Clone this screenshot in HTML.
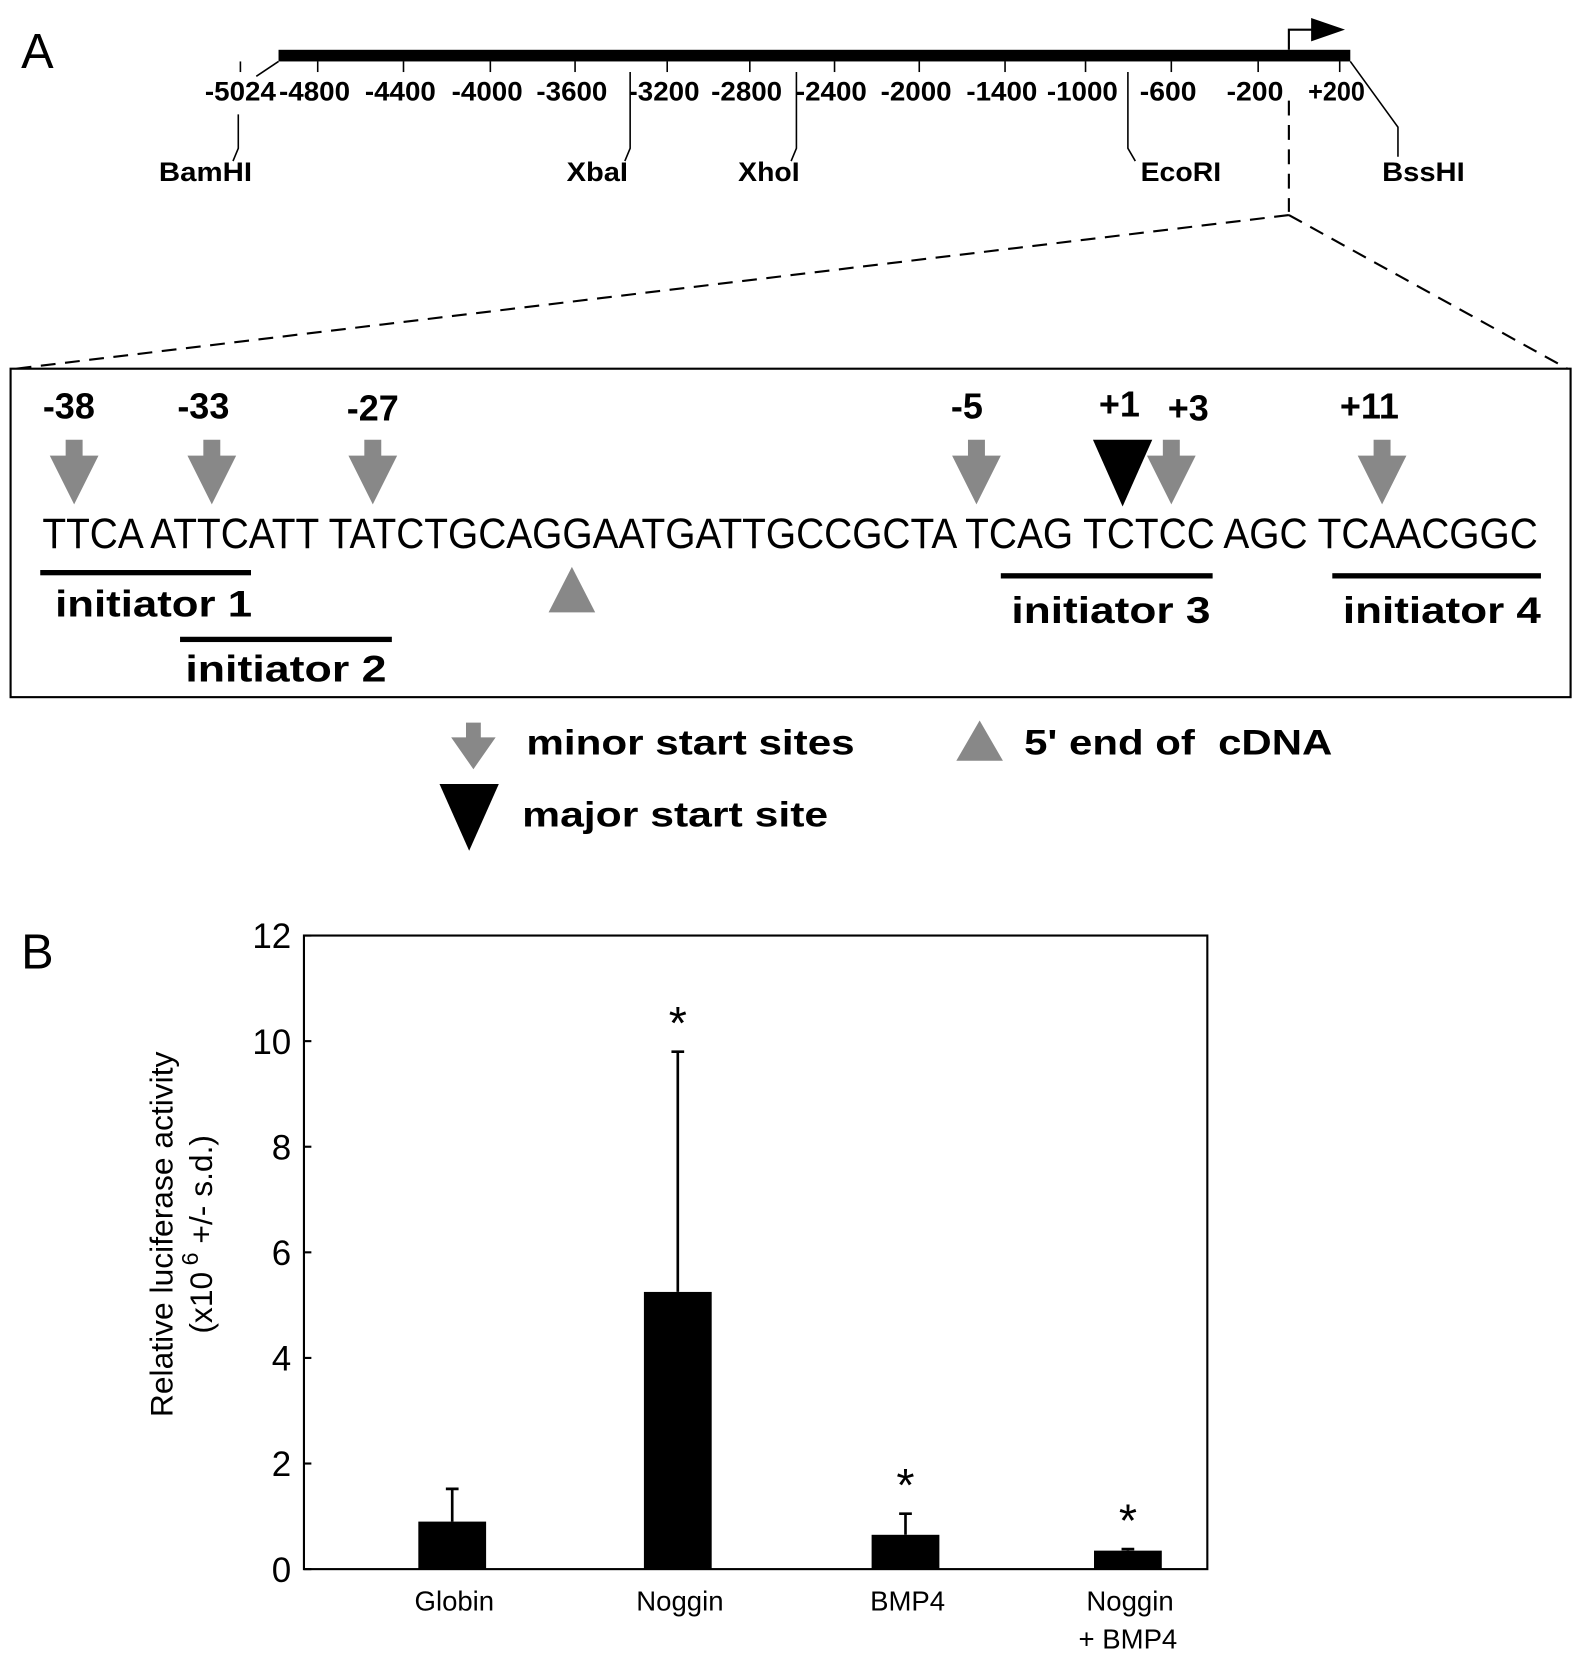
<!DOCTYPE html>
<html><head><meta charset="utf-8"><style>
html,body{margin:0;padding:0;background:#fff;}
svg{display:block;}
text{font-family:"Liberation Sans",sans-serif;}
</style></head><body>
<svg id="fig" width="1578" height="1656" viewBox="0 0 1490 1563" preserveAspectRatio="none" xmlns="http://www.w3.org/2000/svg">
<g>
<text x="20" y="64" font-size="46">A</text>
<rect x="263" y="47" width="1012" height="11" fill="#000"/>
<path d="M1217 47 V28 H1240" fill="none" stroke="#000" stroke-width="2"/>
<path d="M1238 17 L1270 28 L1238 39 Z" fill="#000"/>
<g id="ticks" font-size="25" font-weight="bold" text-anchor="middle"></g>
<g stroke="#000" stroke-width="1.5" fill="none">
<path d="M263 58 L242 72"/><path d="M225 108 V140 L220 152"/>
<path d="M595 68 V140 L590 152"/>
<path d="M752 68 V140 L747 152"/>
<path d="M1065 68 V140 L1072 152"/>
<path d="M1275 58 L1320 120 V148"/>
</g>
<g font-size="25" font-weight="bold" text-anchor="middle">
<text x="194" y="171" textLength="88" lengthAdjust="spacingAndGlyphs">BamHI</text>
<text x="564" y="171" textLength="58" lengthAdjust="spacingAndGlyphs">XbaI</text>
<text x="726" y="171" textLength="58" lengthAdjust="spacingAndGlyphs">XhoI</text>
<text x="1115" y="171" textLength="76" lengthAdjust="spacingAndGlyphs">EcoRI</text>
<text x="1344" y="171" textLength="78" lengthAdjust="spacingAndGlyphs">BssHI</text>
</g>
<g stroke="#000" stroke-width="2" stroke-dasharray="14,9" fill="none">
<path d="M1217 95 V200"/><path d="M1217 203 L15 348"/><path d="M1217 203 L1480 348"/>
</g>
<rect x="10" y="348" width="1473" height="310" fill="#fff" stroke="#000" stroke-width="2"/>
<g font-size="34" font-weight="bold" text-anchor="middle">
<text x="65" y="395">-38</text><text x="192" y="395">-33</text><text x="352" y="397">-27</text>
<text x="913" y="395">-5</text><text x="1057" y="393">+1</text><text x="1122" y="397">+3</text><text x="1293" y="395">+11</text>
</g>
<g id="minorArrows" fill="#888"></g>
<path d="M1032 415 L1088 415 L1060 478 Z" fill="#000"/>
<text x="40" y="517" font-size="40" textLength="1412" lengthAdjust="spacingAndGlyphs" xml:space="preserve">TTCA ATTCATT TATCTGCAGGAATGATTGCCGCTA TCAG TCTCC AGC TCAACGGC</text>
<g fill="#000">
<rect x="38" y="538" width="199" height="5"/><rect x="170" y="601" width="200" height="5"/>
<rect x="945" y="541" width="200" height="5"/><rect x="1258" y="541" width="197" height="5"/>
</g>
<g font-size="35" font-weight="bold">
<text x="52" y="582" textLength="186" lengthAdjust="spacingAndGlyphs">initiator 1</text>
<text x="175" y="643" textLength="190" lengthAdjust="spacingAndGlyphs">initiator 2</text>
<text x="955" y="588" textLength="188" lengthAdjust="spacingAndGlyphs">initiator 3</text>
<text x="1268" y="588" textLength="187" lengthAdjust="spacingAndGlyphs">initiator 4</text>
</g>
<path d="M518 578 L562 578 L540 535 Z" fill="#888"/>
<g>
<path d="M440 682 H454 V696 H468 L447 726 L426 696 H440 Z" fill="#888"/>
<text x="497" y="712" font-size="33" font-weight="bold" textLength="310" lengthAdjust="spacingAndGlyphs">minor start sites</text>
<path d="M903 718 L947 718 L925 680 Z" fill="#888"/>
<text x="967" y="712" font-size="33" font-weight="bold" textLength="291" lengthAdjust="spacingAndGlyphs" xml:space="preserve">5' end of  cDNA</text>
<path d="M415 740 L471 740 L443 803 Z" fill="#000"/>
<text x="493" y="780" font-size="33" font-weight="bold" textLength="289" lengthAdjust="spacingAndGlyphs">major start site</text>
</g>
</g>
<g id="panelB">
<text x="20" y="914" font-size="46">B</text>
</g>
</svg>
<script>
const tickLabels=["-5024","-4800","-4400","-4000","-3600","-3200","-2800","-2400","-2000","-1400","-1000","-600","-200","+200"];
const tickXs=[227,297,378,460,540,627,705,785,865,946,1022,1103,1185,1262];
const minorX=[70,200,352,922,1106,1305];
const categories=["Globin","Noggin","BMP4","Noggin|+ BMP4"];
const values=[0.9,5.25,0.65,0.35];
const errors=[0.62,4.55,0.4,0.03];
const significant=[false,true,true,true];
const yTicks=[0,2,4,6,8,10,12];
const NS="http://www.w3.org/2000/svg";
function mk(tag,attrs,parent){const e=document.createElementNS(NS,tag);for(const k in attrs)e.setAttribute(k,attrs[k]);parent.appendChild(e);return e;}
const tg=document.getElementById('ticks');
tickLabels.forEach((l,i)=>{
 const x=tickXs[i];
 const ln=mk('line',{x1:x+(i==0?0:3),y1:58,x2:x+(i==0?0:3),y2:68,stroke:'#000','stroke-width':1.5},tg);
 
 
 const t=mk('text',{x:x,y:95,textLength:l.length*13.4,lengthAdjust:'spacingAndGlyphs'},tg);t.textContent=l;
 
 
});
const ma=document.getElementById('minorArrows');
minorX.forEach(x=>{
 const p=mk('path',{d:`M${x-8} 415 H${x+8} V430 H${x+23} L${x} 476 L${x-23} 430 H${x-8} Z`},ma);
 
 
});
const pb=document.getElementById('panelB');
const X0=287,X1=1140,Y0=1481,Y1=883,yMax=12;
const yS=v=>Y0-(v/yMax)*(Y0-Y1);
const centers=[427,640,855,1065];
const bw=64;
const frame=mk('rect',{x:X0,y:Y1,width:X1-X0,height:Y0-Y1,fill:'none',stroke:'#000','stroke-width':2},pb);


yTicks.forEach(v=>{
 const y=yS(v);
 const l=mk('line',{x1:X0,y1:y,x2:X0+7,y2:y,stroke:'#000','stroke-width':2},pb);
 
 
 const t=mk('text',{x:275,y:y+12,'font-size':33,'text-anchor':'end'},pb);t.textContent=v;
 
 
});
values.forEach((v,i)=>{
 const cx=centers[i];
 const top=yS(v+errors[i]);
 const e=mk('path',{d:`M${cx} ${yS(v)} V${top} M${cx-6} ${top} H${cx+6}`,stroke:'#000','stroke-width':2.5,fill:'none'},pb);
 
 
 const r=mk('rect',{x:cx-bw/2,y:yS(v),width:bw,height:Y0-yS(v),fill:'#000'},pb);
 
 
 if(significant[i]){
  const a=mk('text',{x:cx,y:top-12,'font-size':44,'text-anchor':'middle'},pb);a.textContent='*';
  
  
 }
 categories[i].split('|').forEach((line,j)=>{
  const t=mk('text',{x:cx+(j?0:2),y:1520+j*36,'font-size':26,'text-anchor':'middle'},pb);t.textContent=line;
  
  
 });
});
const yt=mk('text',{x:0,y:0,'font-size':30,'text-anchor':'middle',transform:'translate(163,1165) rotate(-90)'},pb);
yt.textContent='Relative luciferase activity';


const yt2=mk('text',{x:0,y:0,'font-size':30,'text-anchor':'middle',transform:'translate(200,1165) rotate(-90)'},pb);
yt2.innerHTML='(x10<tspan dy="-13" font-size="22"> 6</tspan><tspan dy="13"> +/- s.d.)</tspan>';


</script>
</body></html>
